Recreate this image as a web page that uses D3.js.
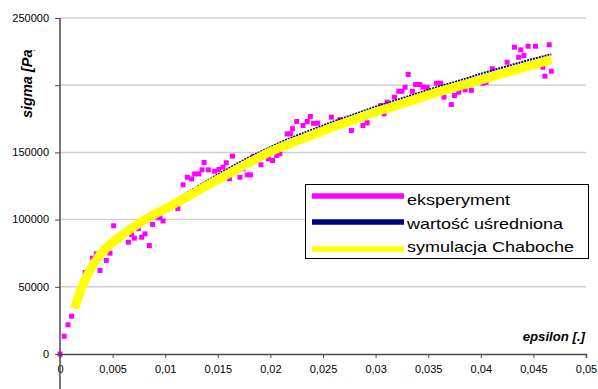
<!DOCTYPE html>
<html>
<head>
<meta charset="utf-8">
<script src="https://cdn.jsdelivr.net/npm/d3@7"></script>
<style>
  body { margin: 0; background: #fff; }
  svg { display: block; font-family: Arial, "Liberation Sans", sans-serif; }
</style>
</head>
<body>
<svg id="chart" width="598" height="389"></svg>
<script>
// eksperyment (epsilon, sigma)
const expEps = [0, 0.0004, 0.00076, 0.0011, 0.0018, 0.0019, 0.0024, 0.0031, 0.00345, 0.0038, 0.00415, 0.0044, 0.00475,
  0.0051, 0.0054, 0.0065, 0.0068, 0.00707, 0.00745, 0.00776, 0.00808, 0.00849, 0.0088, 0.0091, 0.0095, 0.0098, 0.0112,
  0.0117, 0.0121, 0.0125, 0.0128, 0.0132, 0.0135, 0.0137, 0.0141, 0.0147, 0.0151, 0.0155, 0.0158, 0.0161, 0.0164,
  0.0171, 0.0174, 0.0178, 0.0181, 0.0184, 0.0191, 0.0198, 0.0202, 0.0206, 0.0209, 0.0216, 0.0219, 0.0221, 0.0225,
  0.0231, 0.0235, 0.0238, 0.0241, 0.0245, 0.0258, 0.0266, 0.0277, 0.0288, 0.0292, 0.0305, 0.0308, 0.0311, 0.0318,
  0.0322, 0.0325, 0.0328, 0.0331, 0.0335, 0.0338, 0.0342, 0.0345, 0.0349, 0.0358, 0.0362, 0.0365, 0.0372, 0.0375,
  0.0379, 0.0385, 0.0391, 0.0402, 0.0405, 0.0411, 0.0425, 0.0432, 0.0436, 0.0438, 0.0441, 0.0445, 0.0452, 0.0459,
  0.0461, 0.0465, 0.0467];
const expSigma = [0, 13200, 21700, 28100, 43000, 48200, 60600, 71300, 74500, 62100, 78500, 69600, 75000,
  95400, 86500, 83200, 88900, 86200, 93200, 86900, 89400, 80700, 96400, 101800, 101300, 99000, 108200,
  125900, 131500, 130300, 134000, 134000, 137000, 142500, 137000, 136000, 137300, 139000, 142300, 130400, 147200,
  131500, 137800, 133300, 133300, 147000, 140800, 145200, 144000, 147700, 149000, 163800, 163800, 167600, 173000,
  170000, 173000, 176700, 171700, 171700, 176200, 174300, 166300, 170000, 172000, 184900, 178700, 187400, 191100,
  195500, 195500, 198500, 208000, 195500, 200500, 200500, 198500, 198500, 201500, 201500, 191100, 185600, 192300,
  194800, 196600, 196100, 201500, 202200, 212200, 217100, 228300, 220800, 226300, 222100, 229000, 229000, 213400,
  206700, 230100, 210400];

// wartość uśredniona
const avgEps = [0.0014, 0.002, 0.003, 0.005, 0.008, 0.010, 0.012, 0.014, 0.016, 0.018, 0.020, 0.022, 0.024, 0.026,
  0.028, 0.030, 0.032, 0.034, 0.036, 0.038, 0.040, 0.042, 0.044, 0.0467];
const avgSigma = [34000, 48500, 66000, 85000, 101000, 110000, 119500, 129000, 138000, 146500, 154000, 161000, 167000, 173000,
  178500, 184000, 189000, 194000, 199000, 203500, 208500, 213000, 217500, 223000];

// symulacja Chaboche
const simEps = [0.0014, 0.002, 0.0025, 0.003, 0.0035, 0.004, 0.005, 0.006, 0.007, 0.008, 0.009, 0.010, 0.012, 0.014,
  0.016, 0.018, 0.020, 0.022, 0.024, 0.026, 0.028, 0.030, 0.032, 0.034, 0.036, 0.038, 0.040, 0.042, 0.044, 0.0467];
const simSigma = [34000, 48000, 57000, 64500, 70500, 75500, 83000, 89000, 94500, 99500, 104000, 108000, 116500, 125500,
  134000, 142500, 150500, 157000, 163000, 169000, 174500, 180000, 185000, 190000, 195000, 199500, 204000, 208500, 213000, 219000];

const xTicks = [0, 0.005, 0.01, 0.015, 0.02, 0.025, 0.03, 0.035, 0.04, 0.045, 0.05];
const xTickLabels = ['0', '0,005', '0,01', '0,015', '0,02', '0,025', '0,03', '0,035', '0,04', '0,045', '0,05'];
const yTicks = [0, 50000, 100000, 150000, 200000, 250000];
const yTickLabels = ['0', '50000', '100000', '150000', '', '250000'];

const seriesNames = ['eksperyment', 'wartość uśredniona', 'symulacja Chaboche'];
const seriesColors = ['#ff00ff', '#000080', '#ffff00'];

const svg = d3.select('#chart');
const axisColor = '#4a4a4a';

const x = d3.scaleLinear().domain([0, 0.05]).range([60, 586]);
const y = d3.scaleLinear().domain([0, 250000]).range([354, 18]);

// stretch text horizontally, the picture is a bit wider than tall
function stretch(sel, k) {
  sel.each(function() {
    const len = this.getComputedTextLength();
    if (len > 0) {
      d3.select(this).attr('textLength', len * k).attr('lengthAdjust', 'spacingAndGlyphs');
    }
  });
}

// gridlines
svg.append('g')
  .selectAll('line')
  .data(yTicks.filter(d => d > 0))
  .join('line')
  .attr('x1', x(0)).attr('x2', x(0.05))
  .attr('y1', d => y(d)).attr('y2', d => y(d))
  .attr('stroke', '#cfcfcf')
  .attr('stroke-width', 1.5);

// series
const expData = expEps.map((e, i) => ({ e: e, s: expSigma[i] }));
const avgData = avgEps.map((e, i) => ({ e: e, s: avgSigma[i] }));
const simData = simEps.map((e, i) => ({ e: e, s: simSigma[i] }));

svg.append('g')
  .selectAll('rect')
  .data(expData)
  .join('rect')
  .attr('x', d => x(d.e) - 2.5)
  .attr('y', d => y(d.s) - 2.5)
  .attr('width', 5)
  .attr('height', 5)
  .attr('fill', seriesColors[0]);

const line = d3.line()
  .x(d => x(d.e))
  .y(d => y(d.s))
  .curve(d3.curveMonotoneX);

svg.append('path')
  .datum(avgData)
  .attr('fill', 'none')
  .attr('stroke', seriesColors[1])
  .attr('stroke-width', 2)
  .attr('stroke-dasharray', '2,1')
  .attr('d', line);

svg.append('path')
  .datum(simData)
  .attr('fill', 'none')
  .attr('stroke', seriesColors[2])
  .attr('stroke-width', 9)
  .attr('d', line);

// axes
const xAxis = d3.axisBottom(x)
  .tickValues(xTicks)
  .tickFormat((d, i) => xTickLabels[i])
  .tickSize(4)
  .tickPadding(8);
const gx = svg.append('g')
  .attr('transform', 'translate(0,' + y(0) + ')')
  .call(xAxis);
gx.select('.domain').attr('stroke', axisColor).attr('stroke-width', 1.5);
gx.selectAll('.tick line').attr('stroke', axisColor);
gx.selectAll('.tick text').attr('font-size', 10).attr('fill', '#000')
  .attr('font-family', 'Arial, "Liberation Sans", sans-serif');
stretch(gx.selectAll('.tick text'), 1.1);

const yAxis = d3.axisLeft(y)
  .tickValues(yTicks)
  .tickFormat((d, i) => yTickLabels[i])
  .tickSize(5)
  .tickPadding(6);
const gy = svg.append('g')
  .attr('transform', 'translate(' + x(0) + ',0)')
  .call(yAxis);
gy.select('.domain').remove();
gy.selectAll('.tick line').attr('stroke', axisColor);
gy.selectAll('.tick text').attr('font-size', 10).attr('fill', '#000')
  .attr('font-family', 'Arial, "Liberation Sans", sans-serif');
stretch(gy.selectAll('.tick text'), 1.1);

// y axis line runs down past the x axis
svg.append('line')
  .attr('x1', x(0)).attr('x2', x(0))
  .attr('y1', y(250000)).attr('y2', 389)
  .attr('stroke', axisColor)
  .attr('stroke-width', 1.5);

// axis titles
const xTitle = svg.append('text')
  .attr('x', 585)
  .attr('y', 341)
  .attr('text-anchor', 'end')
  .attr('font-size', 12)
  .attr('font-weight', 'bold')
  .attr('font-style', 'italic')
  .text('epsilon [.]');
stretch(xTitle, 1.1);

svg.append('clipPath')
  .attr('id', 'titleClip')
  .append('rect')
  .attr('x', 0).attr('y', 50).attr('width', 60).attr('height', 200);

svg.append('g')
  .attr('clip-path', 'url(#titleClip)')
  .append('text')
  .attr('transform', 'translate(32,118) rotate(-90)')
  .attr('font-size', 14.5)
  .attr('font-weight', 'bold')
  .attr('font-style', 'italic')
  .text('sigma [Pa]');

// legend
const legend = svg.append('g');
legend.append('rect')
  .attr('x', 305.5).attr('y', 184.5)
  .attr('width', 283).attr('height', 74)
  .attr('fill', '#fff')
  .attr('stroke', '#000')
  .attr('stroke-width', 1);

const legendY = [196, 222, 249];
const legendTextY = [205, 229, 252];
seriesNames.forEach((name, i) => {
  legend.append('line')
    .attr('x1', 312).attr('x2', 404)
    .attr('y1', legendY[i]).attr('y2', legendY[i])
    .attr('stroke', seriesColors[i])
    .attr('stroke-width', 5.5);
  const t = legend.append('text')
    .attr('x', 407)
    .attr('y', legendTextY[i])
    .attr('font-size', 15)
    .attr('fill', '#000')
    .text(name);
  stretch(t, 1.2);
});
</script>
</body>
</html>
